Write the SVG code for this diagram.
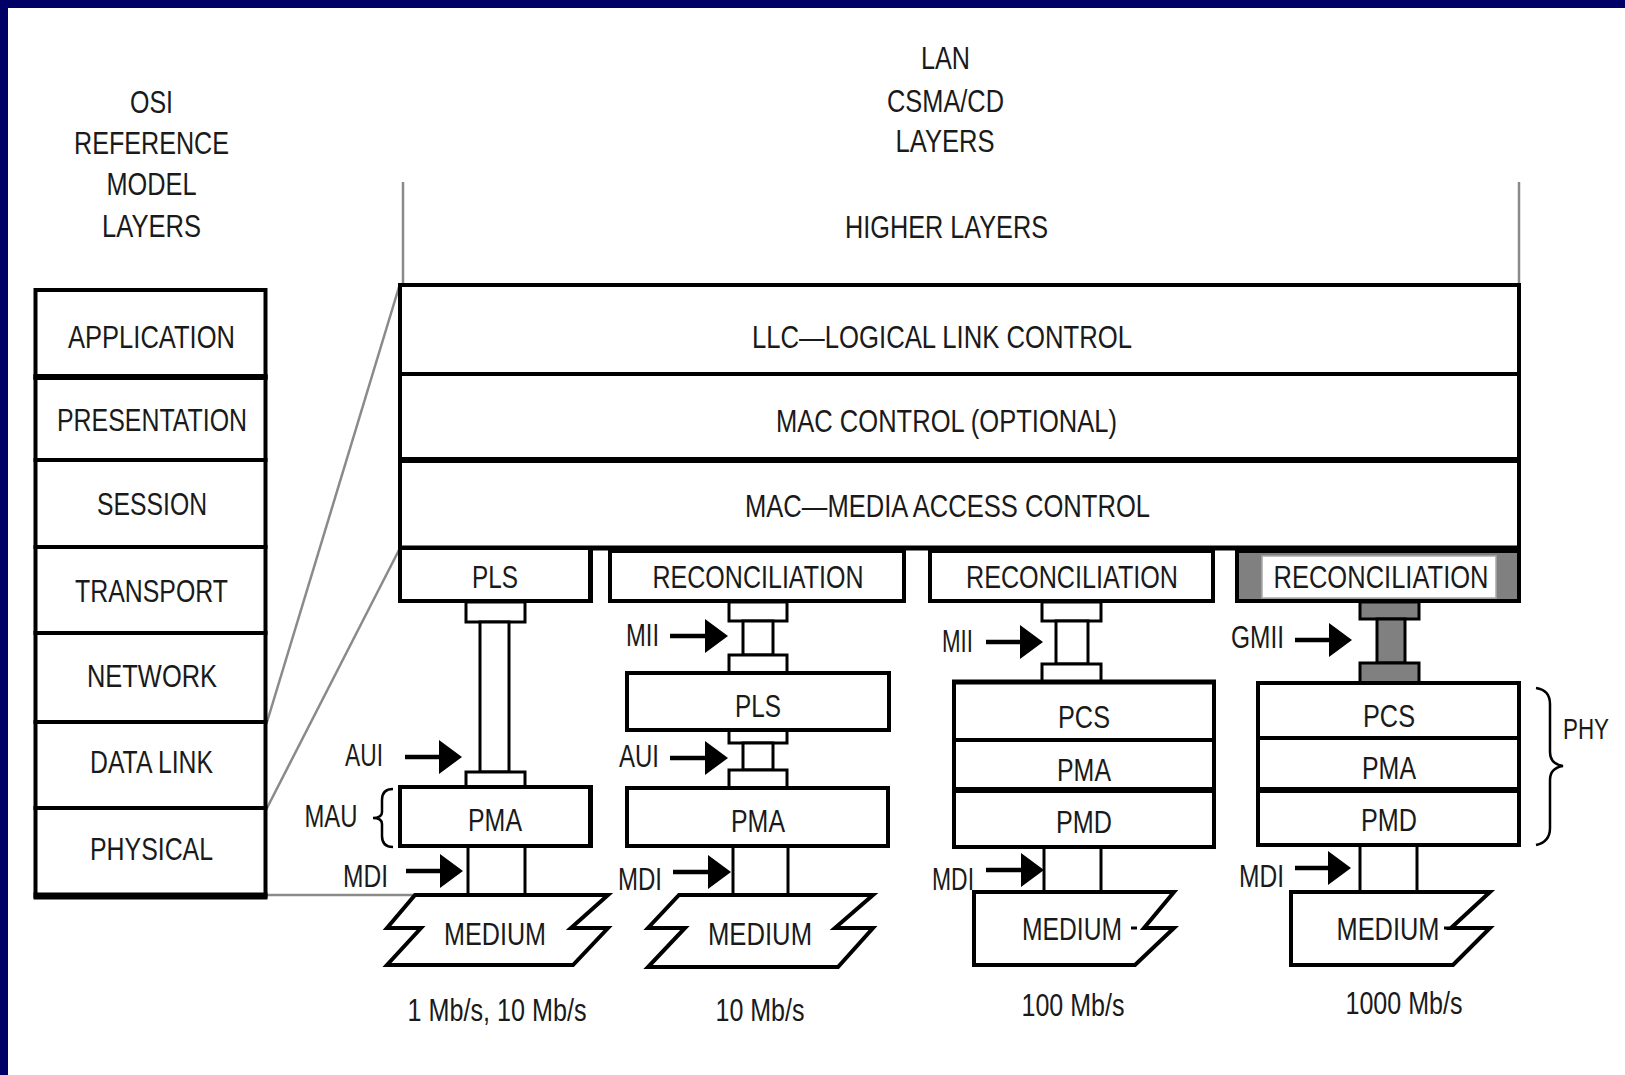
<svg xmlns="http://www.w3.org/2000/svg" width="1625" height="1075" viewBox="0 0 1625 1075">
<style>
.t{font-family:"Liberation Sans",Arial,Helvetica,sans-serif;font-size:32px;fill:#1a1a1a;text-anchor:middle}
.b{fill:#fff;stroke:#000;stroke-width:4}
.bar{fill:#fff;stroke:#000;stroke-width:3}
.gbar{fill:#808080;stroke:#000;stroke-width:3}
.post{stroke:#000;stroke-width:3;fill:none}
.gray{stroke:#8a8a8a;stroke-width:2.5;fill:none}
.arr{stroke:#000;stroke-width:4.5;fill:none;marker-end:url(#ah)}
.med{fill:#fff;stroke:#000;stroke-width:4;stroke-linejoin:miter}
.brace{fill:none;stroke:#000;stroke-width:2.5}
</style>
<defs>
<marker id="ah" markerUnits="userSpaceOnUse" markerWidth="24" markerHeight="34" refX="13" refY="17" orient="auto">
<path d="M0,0 L23,17 L0,34 z" fill="#000"/>
</marker>
</defs>
<rect x="0" y="0" width="1625" height="1075" fill="#fff"/>
<rect x="0" y="0" width="1625" height="8" fill="#000066"/>
<rect x="0" y="0" width="8" height="1075" fill="#000066"/>

<g id="titles">
<text class="t" x="151.5" y="113" textLength="43" lengthAdjust="spacingAndGlyphs">OSI</text>
<text class="t" x="151.5" y="154" textLength="155" lengthAdjust="spacingAndGlyphs">REFERENCE</text>
<text class="t" x="151.5" y="195" textLength="90" lengthAdjust="spacingAndGlyphs">MODEL</text>
<text class="t" x="151.5" y="237" textLength="99" lengthAdjust="spacingAndGlyphs">LAYERS</text>
<text class="t" x="945.5" y="69" textLength="49" lengthAdjust="spacingAndGlyphs">LAN</text>
<text class="t" x="945.5" y="112" textLength="117" lengthAdjust="spacingAndGlyphs">CSMA/CD</text>
<text class="t" x="945" y="152" textLength="99" lengthAdjust="spacingAndGlyphs">LAYERS</text>
<text class="t" x="946.5" y="238" textLength="203" lengthAdjust="spacingAndGlyphs">HIGHER LAYERS</text>
</g>

<g id="connectors">
<line class="gray" x1="403" y1="182" x2="403" y2="285"/>
<line class="gray" x1="1519" y1="182" x2="1519" y2="285"/>
<line class="gray" x1="267" y1="722" x2="399" y2="287"/>
<line class="gray" x1="267" y1="808" x2="399" y2="550"/>
<line class="gray" x1="267" y1="895" x2="414" y2="895" stroke-width="3"/>
<rect class="bar" x="466" y="602" width="59" height="20"/>
<rect class="bar" x="480" y="622" width="29" height="150"/>
<rect class="bar" x="466" y="772" width="59" height="15"/>
<rect class="bar" x="729" y="602" width="58" height="19"/>
<rect class="bar" x="743" y="621" width="30" height="34"/>
<rect class="bar" x="729" y="655" width="58" height="18"/>
<rect class="bar" x="729" y="730" width="58" height="13"/>
<rect class="bar" x="743" y="743" width="30" height="27"/>
<rect class="bar" x="729" y="770" width="58" height="18"/>
<rect class="bar" x="1042" y="602" width="59" height="19"/>
<rect class="bar" x="1056" y="621" width="32" height="43"/>
<rect class="bar" x="1042" y="664" width="59" height="18"/>
<rect class="gbar" x="1360" y="602" width="59" height="17"/>
<rect class="gbar" x="1377" y="619" width="28" height="44"/>
<rect class="gbar" x="1360" y="663" width="59" height="20"/>
<line class="post" x1="468" y1="847" x2="468" y2="895"/>
<line class="post" x1="525" y1="847" x2="525" y2="895"/>
<line class="post" x1="733" y1="846" x2="733" y2="895"/>
<line class="post" x1="788" y1="846" x2="788" y2="895" stroke-width="1.5"/>
<line class="post" x1="1044" y1="847" x2="1044" y2="892"/>
<line class="post" x1="1101" y1="847" x2="1101" y2="892"/>
<line class="post" x1="1360" y1="845" x2="1360" y2="892"/>
<line class="post" x1="1417" y1="845" x2="1417" y2="892"/>
<line class="arr" x1="405" y1="757" x2="452" y2="757"/>
<line class="arr" x1="406" y1="871" x2="453" y2="871"/>
<line class="arr" x1="670" y1="636" x2="718" y2="636"/>
<line class="arr" x1="670" y1="758" x2="718" y2="758"/>
<line class="arr" x1="673" y1="872" x2="721" y2="872"/>
<line class="arr" x1="986" y1="642" x2="1033" y2="642"/>
<line class="arr" x1="986" y1="870" x2="1034" y2="870"/>
<line class="arr" x1="1295" y1="640" x2="1342" y2="640"/>
<line class="arr" x1="1295" y1="868" x2="1341" y2="868"/>
</g>

<g id="osi-application"><rect class="b" x="35.5" y="290" width="230" height="87"/><text class="t" x="151.5" y="348" textLength="167" lengthAdjust="spacingAndGlyphs">APPLICATION</text></g>
<g id="osi-presentation"><rect class="b" x="35.5" y="377" width="230" height="83"/><text class="t" x="152" y="431" textLength="190" lengthAdjust="spacingAndGlyphs">PRESENTATION</text></g>
<g id="osi-session"><rect class="b" x="35.5" y="460" width="230" height="87"/><text class="t" x="152" y="515" textLength="110" lengthAdjust="spacingAndGlyphs">SESSION</text></g>
<g id="osi-transport"><rect class="b" x="35.5" y="547" width="230" height="86"/><text class="t" x="151.5" y="602" textLength="153" lengthAdjust="spacingAndGlyphs">TRANSPORT</text></g>
<g id="osi-network"><rect class="b" x="35.5" y="633" width="230" height="89"/><text class="t" x="152" y="687" textLength="130" lengthAdjust="spacingAndGlyphs">NETWORK</text></g>
<g id="osi-datalink"><rect class="b" x="35.5" y="722" width="230" height="86"/><text class="t" x="151.5" y="773" textLength="123" lengthAdjust="spacingAndGlyphs">DATA LINK</text></g>
<g id="osi-physical"><rect class="b" x="35.5" y="808" width="230" height="88"/><text class="t" x="151.5" y="860" textLength="123" lengthAdjust="spacingAndGlyphs">PHYSICAL</text></g>
<line x1="33.5" y1="377" x2="267.5" y2="377" stroke="#000" stroke-width="6"/>
<line x1="33.5" y1="896" x2="267.5" y2="896" stroke="#000" stroke-width="7"/>

<g id="llc"><rect class="b" x="400" y="285" width="1119" height="89"/><text class="t" x="942" y="348" textLength="380" lengthAdjust="spacingAndGlyphs">LLC—LOGICAL LINK CONTROL</text></g>
<g id="mac-control"><rect class="b" x="400" y="374" width="1119" height="86"/><text class="t" x="946.5" y="432" textLength="341" lengthAdjust="spacingAndGlyphs">MAC CONTROL (OPTIONAL)</text></g>
<g id="mac"><rect class="b" x="400" y="460" width="1119" height="88"/><text class="t" x="947.5" y="517" textLength="405" lengthAdjust="spacingAndGlyphs">MAC—MEDIA ACCESS CONTROL</text></g>
<line x1="398" y1="460" x2="1521" y2="460" stroke="#000" stroke-width="6"/>
<line x1="398" y1="548" x2="1521" y2="548" stroke="#000" stroke-width="5"/>

<g id="pls1"><rect class="b" x="400" y="548" width="190" height="53"/><line x1="590.5" y1="548" x2="590.5" y2="603" stroke="#000" stroke-width="5"/><text class="t" x="495" y="588" textLength="46" lengthAdjust="spacingAndGlyphs">PLS</text></g>
<g id="recon1"><rect class="b" x="610" y="551" width="294" height="50"/><text class="t" x="758" y="588" textLength="211" lengthAdjust="spacingAndGlyphs">RECONCILIATION</text></g>
<g id="recon2"><rect class="b" x="930" y="551" width="283" height="50"/><text class="t" x="1072" y="588" textLength="212" lengthAdjust="spacingAndGlyphs">RECONCILIATION</text></g>
<g id="recon3"><rect x="1237" y="551" width="282" height="50" fill="#808080" stroke="#000" stroke-width="4"/><rect x="1262" y="556" width="234" height="42" fill="#fff" stroke="#aaa" stroke-width="1.5"/><text class="t" x="1381" y="588" textLength="215" lengthAdjust="spacingAndGlyphs">RECONCILIATION</text></g>

<g id="pma1"><rect class="b" x="400" y="787" width="190" height="59"/><line x1="590.5" y1="785" x2="590.5" y2="848" stroke="#000" stroke-width="5"/><text class="t" x="495" y="831" textLength="54" lengthAdjust="spacingAndGlyphs">PMA</text></g>
<g id="pls2"><rect class="b" x="627" y="673" width="262" height="57"/><text class="t" x="758" y="717" textLength="46" lengthAdjust="spacingAndGlyphs">PLS</text></g>
<g id="pma2"><rect class="b" x="627" y="788" width="261" height="58"/><text class="t" x="758" y="832" textLength="54" lengthAdjust="spacingAndGlyphs">PMA</text></g>

<g id="pcs3"><rect class="b" x="954" y="682" width="260" height="58"/><text class="t" x="1084" y="728" textLength="52" lengthAdjust="spacingAndGlyphs">PCS</text></g>
<g id="pma3"><rect class="b" x="954" y="740" width="260" height="50"/><text class="t" x="1084" y="781" textLength="54" lengthAdjust="spacingAndGlyphs">PMA</text></g>
<g id="pmd3"><rect class="b" x="954" y="790" width="260" height="57"/><text class="t" x="1084" y="833" textLength="56" lengthAdjust="spacingAndGlyphs">PMD</text></g>
<line x1="952" y1="790" x2="1216" y2="790" stroke="#000" stroke-width="6"/>
<line x1="952" y1="682" x2="1216" y2="682" stroke="#000" stroke-width="5"/>

<g id="pcs4"><rect class="b" x="1258" y="683" width="261" height="55"/><text class="t" x="1389" y="727" textLength="52" lengthAdjust="spacingAndGlyphs">PCS</text></g>
<g id="pma4"><rect class="b" x="1258" y="738" width="261" height="52"/><text class="t" x="1389" y="779" textLength="54" lengthAdjust="spacingAndGlyphs">PMA</text></g>
<g id="pmd4"><rect class="b" x="1258" y="790" width="261" height="55"/><text class="t" x="1389" y="831" textLength="56" lengthAdjust="spacingAndGlyphs">PMD</text></g>
<line x1="1256" y1="790" x2="1521" y2="790" stroke="#000" stroke-width="6"/>

<g id="medium1"><path class="med" d="M415,895 L608,895 L571,928 L608,928 L573,965 L387,965 L421,928 L387,928 Z"/><text class="t" x="495" y="945" textLength="102" lengthAdjust="spacingAndGlyphs">MEDIUM</text></g>
<g id="medium2"><path class="med" d="M679,895 L873,895 L835,928 L873,928 L838,967 L648,967 L685,928 L648,928 Z"/><text class="t" x="760" y="945" textLength="104" lengthAdjust="spacingAndGlyphs">MEDIUM</text></g>
<g id="medium3"><path class="med" d="M974,892 L1174,892 L1144,928 L1174,928 L1135,965 L974,965 Z"/><line x1="1131" y1="928" x2="1137" y2="928" stroke="#000" stroke-width="3"/><text class="t" x="1072" y="940" textLength="100" lengthAdjust="spacingAndGlyphs">MEDIUM</text></g>
<g id="medium4"><path class="med" d="M1291,892 L1490,892 L1451,928 L1490,928 L1453,965 L1291,965 Z"/><line x1="1444" y1="928" x2="1450" y2="928" stroke="#000" stroke-width="3"/><text class="t" x="1388" y="940" textLength="103" lengthAdjust="spacingAndGlyphs">MEDIUM</text></g>

<g id="labels">
<text class="t" x="642.5" y="646" textLength="33" lengthAdjust="spacingAndGlyphs">MII</text>
<text class="t" x="957.5" y="652" textLength="31" lengthAdjust="spacingAndGlyphs">MII</text>
<text class="t" x="1257.5" y="648" textLength="53" lengthAdjust="spacingAndGlyphs">GMII</text>
<text class="t" x="364" y="766" textLength="38" lengthAdjust="spacingAndGlyphs">AUI</text>
<text class="t" x="639" y="767" textLength="40" lengthAdjust="spacingAndGlyphs">AUI</text>
<text class="t" x="331" y="827" textLength="53" lengthAdjust="spacingAndGlyphs">MAU</text>
<text class="t" x="365.5" y="887" textLength="45" lengthAdjust="spacingAndGlyphs">MDI</text>
<text class="t" x="640" y="890" textLength="44" lengthAdjust="spacingAndGlyphs">MDI</text>
<text class="t" x="953" y="890" textLength="42" lengthAdjust="spacingAndGlyphs">MDI</text>
<text class="t" x="1261.5" y="887" textLength="45" lengthAdjust="spacingAndGlyphs">MDI</text>
<text class="t" x="1586" y="739" textLength="46" lengthAdjust="spacingAndGlyphs" style="font-size:30px">PHY</text>
<text class="t" x="497" y="1021" textLength="179" lengthAdjust="spacingAndGlyphs">1 Mb/s, 10 Mb/s</text>
<text class="t" x="760" y="1021" textLength="89" lengthAdjust="spacingAndGlyphs">10 Mb/s</text>
<text class="t" x="1073" y="1016" textLength="103" lengthAdjust="spacingAndGlyphs">100 Mb/s</text>
<text class="t" x="1404" y="1014" textLength="117" lengthAdjust="spacingAndGlyphs">1000 Mb/s</text>
<path class="brace" d="M393,789 Q382,789 382,800 L382,812 Q382,818 373,818 Q382,818 382,824 L382,836 Q382,847 393,847"/>
<path class="brace" d="M1536,688 Q1550,690 1550,704 L1550,752 Q1550,764 1563,766 Q1550,768 1550,780 L1550,828 Q1550,842 1536,845"/>
</g>
</svg>
